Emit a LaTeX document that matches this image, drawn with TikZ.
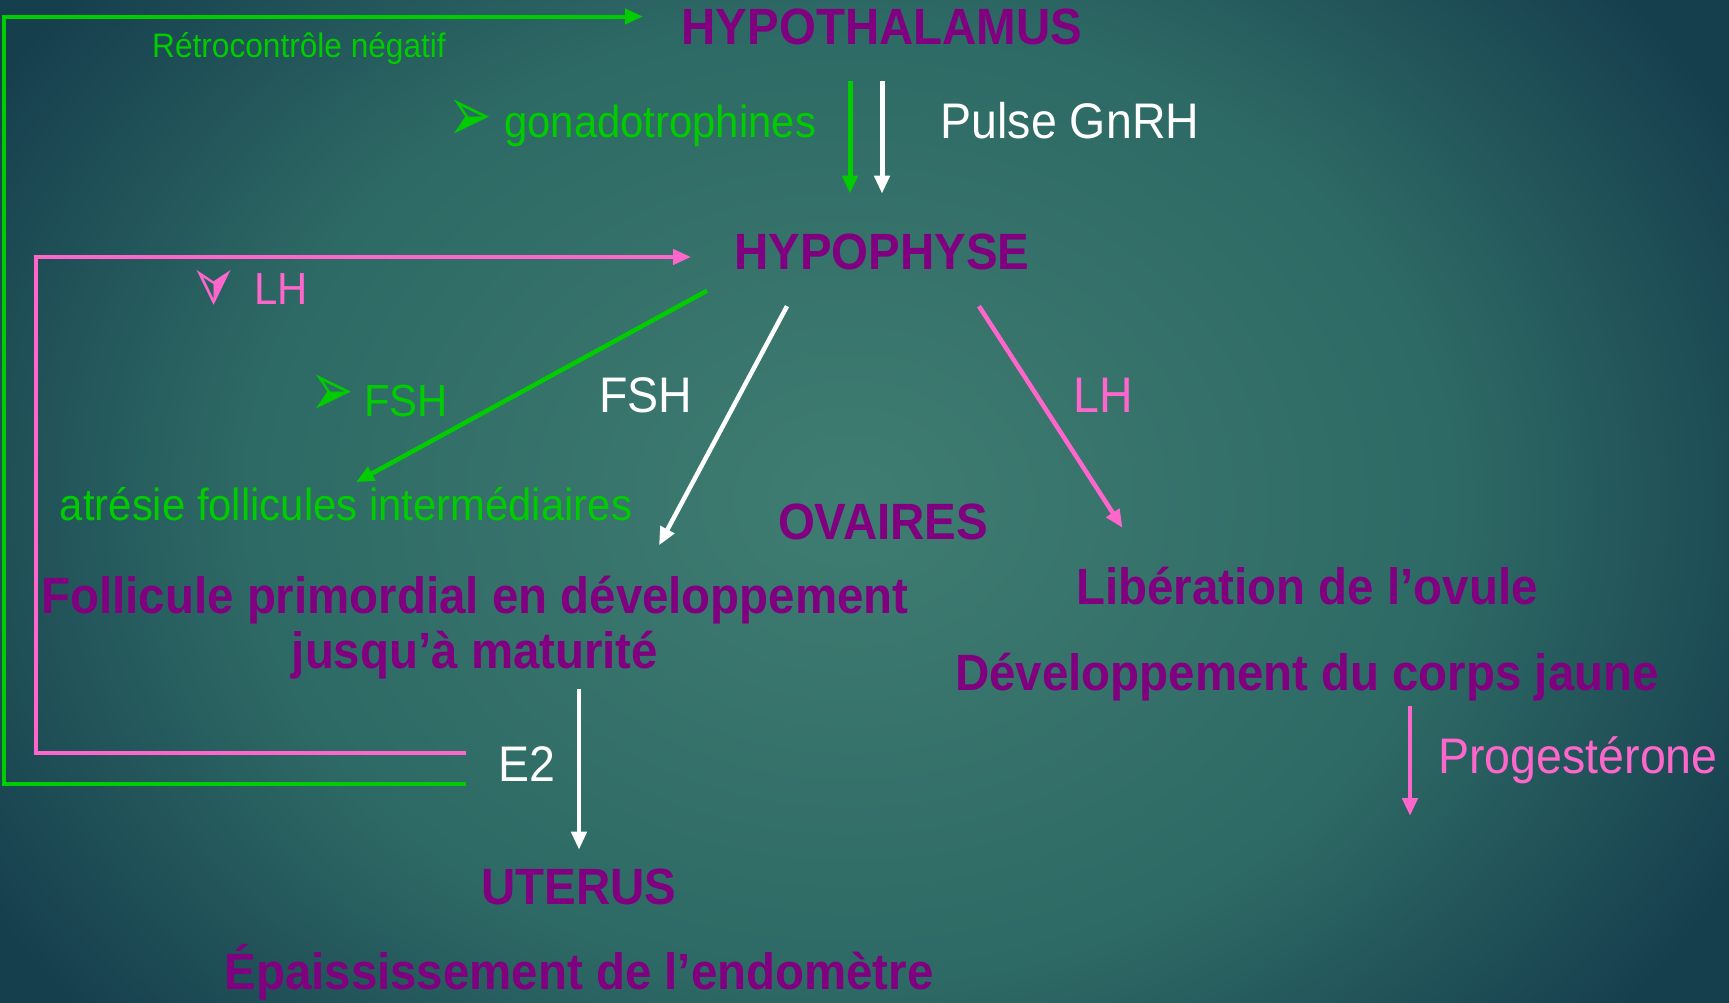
\documentclass[tikz,border=0pt]{standalone}
\usepackage{fontspec}
\setmainfont{Liberation Sans}[FakeStretch=0.93]
\newfontfamily\dejavu{DejaVu Sans}
\usetikzlibrary{arrows.meta}
\definecolor{bglight}{HTML}{3F7C71}
\definecolor{bgmid}{HTML}{2E6A65}
\definecolor{bgdark}{HTML}{163F4E}
\definecolor{titlepurple}{HTML}{800080}
\definecolor{hgreen}{HTML}{00CC00}
\definecolor{hpink}{HTML}{FF66CC}
\pgfdeclareradialshading{bgglow}{\pgfpoint{0bp}{0bp}}{color(0bp)=(bglight); color(15bp)=(bgmid); color(25bp)=(bgdark); color(50bp)=(bgdark)}
\begin{document}
\begin{tikzpicture}[x=1pt,y=-1pt,
    title/.style={text=titlepurple,font=\fontsize{51}{55}\selectfont\bfseries,inner sep=0pt},
    bigtxt/.style={font=\fontsize{50}{55}\selectfont,inner sep=0pt},
    medtxt/.style={font=\fontsize{45}{50}\selectfont,inner sep=0pt},
    smalltxt/.style={font=\fontsize{34}{38}\selectfont,inner sep=0pt},
    bullet/.style={font=\dejavu\fontsize{52}{54}\selectfont,inner sep=0pt},
    link/.style={line width=4.5pt,-{Triangle[length=18pt,width=15pt]}},
    feedback/.style={line width=4pt}]
  \useasboundingbox (0,0) rectangle (1729,1002);
  \clip (0,0) rectangle (1729,1002);
  \fill[bgdark] (0,0) rectangle (1729,1002);
  \shade[shading=bgglow] (-150,-300) rectangle (1850,1300);

  \node[title,anchor=base] (hypothal) at (882,44) {HYPOTHALAMUS};
  \node[title,anchor=base] (hypoph) at (882,269) {HYPOPHYSE};
  \node[title,anchor=base] (ovaires) at (883,539) {OVAIRES};
  \node[title,anchor=base,align=center] (follic) at (475,668) {Follicule primordial en développement\\jusqu’à maturité};
  \node[title,anchor=base] (liber) at (1307,604) {Libération de l’ovule};
  \node[title,anchor=base] (corps) at (1307,690) {Développement du corps jaune};
  \node[title,anchor=base] (uterus) at (579,904) {UTERUS};
  \node[title,anchor=base] (endom) at (579,989) {Épaississement de l’endomètre};

  \node[smalltxt,text=hgreen,anchor=base] (retro) at (299,57) {Rétrocontrôle négatif};
  \node[bullet,text=hgreen,yscale=1.5] (bgonado) at (470,121) {➢};
  \node[medtxt,text=hgreen,anchor=base west] (gonado) at (504,137) {gonadotrophines};
  \node[bigtxt,text=white,anchor=base] (gnrh) at (1070,138) {Pulse GnRH};
  \node[bullet,text=hpink,xscale=-1,rotate=-90,yscale=1.5] (blh) at (218,286) {➢};
  \node[medtxt,text=hpink,anchor=base] (lhleft) at (281,304) {LH};
  \node[bullet,text=hgreen,yscale=1.5] (bfsh) at (332,396) {➢};
  \node[medtxt,text=hgreen,anchor=base] (fshgreen) at (406,416) {FSH};
  \node[bigtxt,text=white,anchor=base] (fshwhite) at (646,412) {FSH};
  \node[bigtxt,text=hpink,anchor=base] (lhright) at (1103,412) {LH};
  \node[medtxt,text=hgreen,anchor=base] (atresie) at (346,520.5) {atrésie follicules intermédiaires};
  \node[bigtxt,text=white,anchor=base] (e2) at (527,781) {E2};
  \node[bigtxt,text=hpink,anchor=base] (proges) at (1578,773) {Progestérone};

  \coordinate (gstart) at (466,784);
  \coordinate (gcorner) at (4.4,784);
  \coordinate (gend) at (643,16.5);
  \coordinate (pstart) at (466,753);
  \coordinate (pcorner) at (36.4,753);
  \coordinate (pend) at (691,257);
  \coordinate (progend) at (1410,816);

  \draw[feedback,hgreen,-{Triangle[length=18pt,width=15pt]}] (gstart) -- (gcorner) |- (gend);
  \draw[feedback,hpink,-{Triangle[length=18pt,width=15pt]}] (pstart) -- (pcorner) |- (pend);
  \draw[link,hgreen,line width=5pt] ([xshift=-32pt,yshift=-36.5pt]hypothal.south) -- ([xshift=-32pt,yshift=39.5pt]hypoph.north);
  \draw[link,white,line width=5pt] ([yshift=-36.5pt]hypothal.south) -- ([yshift=39.5pt]hypoph.north);
  \draw[link,hgreen] ([xshift=-175pt,yshift=-21pt]hypoph.south) -- ([xshift=10pt,yshift=5pt]atresie.north);
  \draw[link,white] ([xshift=-95pt,yshift=-36.5pt]hypoph.south) -- ([xshift=184pt,yshift=30pt]follic.north);
  \draw[link,hpink] ([xshift=97pt,yshift=-36.5pt]hypoph.south) -- ([xshift=-184.5pt,yshift=38.5pt]liber.north);
  \draw[link,white] ([yshift=-10pt]uterus.north |- follic.south) -- ([yshift=18.5pt]uterus.north);
  \draw[link,hpink] ([xshift=103pt,yshift=-5pt]corps.south) -- (progend);
\end{tikzpicture}
\end{document}
